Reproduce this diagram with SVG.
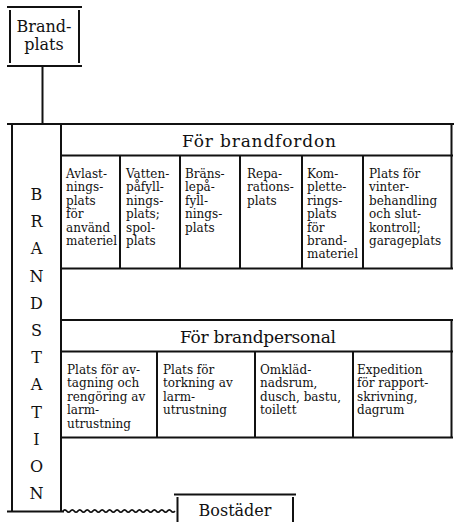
<svg xmlns="http://www.w3.org/2000/svg" width="458" height="522" viewBox="0 0 458 522">
<style>
.ln{stroke:#111;stroke-width:2;fill:none;stroke-linecap:square}
.v{stroke:#111;stroke-width:2;fill:none;stroke-linecap:butt}
.t{font-family:"DejaVu Serif","Liberation Serif",serif;font-size:12px;fill:#111}
.h{font-family:"DejaVu Serif","Liberation Serif",serif;font-size:17px;fill:#111;text-anchor:middle}
.s{font-family:"DejaVu Serif","Liberation Serif",serif;font-size:16px;fill:#111;text-anchor:middle}
</style>
<rect width="458" height="522" fill="#fff"/>
<g id="brandplats">
<path class="ln" d="M8,7H81M8,66H81"/>
<path class="v" d="M10,10V63M79,10V63"/>
<text class="s" x="44" y="32" font-size="15">Brand-</text>
<text class="s" x="44" y="50" font-size="15">plats</text>
</g>
<g id="connectors">
<path class="ln" d="M42.5,67V124"/>
<path fill="none" stroke="#111" stroke-width="1.8" d="M63,511q1.87,-2.4 3.73,0t3.73,0t3.73,0t3.73,0t3.73,0t3.73,0t3.73,0t3.73,0t3.73,0t3.73,0t3.73,0t3.73,0t3.73,0t3.73,0t3.73,0t3.73,0t3.73,0t3.73,0t3.73,0t3.73,0t3.73,0t3.73,0t3.73,0t3.73,0t3.73,0t3.73,0t3.73,0t3.73,0t3.73,0t3.73,0"/>
</g>
<g id="brandstation">
<path class="ln" d="M8,124H453M12,126V510M61,126V510M8,511.5H63"/>
<text class="s" x="36.5" y="200">B</text>
<text class="s" x="36.5" y="227.2">R</text>
<text class="s" x="36.5" y="254.4">A</text>
<text class="s" x="36.5" y="281.6">N</text>
<text class="s" x="36.5" y="308.8">D</text>
<text class="s" x="36.5" y="336">S</text>
<text class="s" x="36.5" y="363.2">T</text>
<text class="s" x="36.5" y="390.4">A</text>
<text class="s" x="36.5" y="417.6">T</text>
<text class="s" x="36.5" y="444.8">I</text>
<text class="s" x="36.5" y="472">O</text>
<text class="s" x="36.5" y="499.2">N</text>
</g>
<g id="brandfordon">
<path class="ln" d="M451.5,125V268M62,155.5H452M62,268.5H452M120,157V267M180,157V267M240,157V267M302,157V267M363,157V267"/>
<text class="h" x="259" y="147" textLength="154" lengthAdjust="spacing">För brandfordon</text>
<text class="t"><tspan x="66" y="178">Avlast-</tspan><tspan x="66" y="191.4">nings-</tspan><tspan x="66" y="204.8">plats</tspan><tspan x="66" y="218.2">för</tspan><tspan x="66" y="231.6">använd</tspan><tspan x="66" y="245">materiel</tspan></text>
<text class="t"><tspan x="126" y="178">Vatten-</tspan><tspan x="126" y="191.4">påfyll-</tspan><tspan x="126" y="204.8">nings-</tspan><tspan x="126" y="218.2">plats;</tspan><tspan x="126" y="231.6">spol-</tspan><tspan x="126" y="245">plats</tspan></text>
<text class="t"><tspan x="185" y="178">Bräns-</tspan><tspan x="185" y="191.4">lepå-</tspan><tspan x="185" y="204.8">fyll-</tspan><tspan x="185" y="218.2">nings-</tspan><tspan x="185" y="231.6">plats</tspan></text>
<text class="t"><tspan x="247" y="178">Repa-</tspan><tspan x="247" y="191.4">rations-</tspan><tspan x="247" y="204.8">plats</tspan></text>
<text class="t"><tspan x="307" y="178">Kom-</tspan><tspan x="307" y="191.4">plette-</tspan><tspan x="307" y="204.8">rings-</tspan><tspan x="307" y="218.2">plats</tspan><tspan x="307" y="231.6">för</tspan><tspan x="307" y="245">brand-</tspan><tspan x="307" y="258.4">materiel</tspan></text>
<text class="t"><tspan x="369" y="178">Plats för</tspan><tspan x="369" y="191.4">vinter-</tspan><tspan x="369" y="204.8">behandling</tspan><tspan x="369" y="218.2">och slut-</tspan><tspan x="369" y="231.6">kontroll;</tspan><tspan x="369" y="245">garageplats</tspan></text>
</g>
<g id="brandpersonal">
<path class="ln" d="M62,320H452M451.5,320V437M62,351.5H452M62,437.5H452M157,353V436M255,353V436M353,353V436"/>
<text class="h" x="258" y="343" textLength="156" lengthAdjust="spacing">För brandpersonal</text>
<text class="t"><tspan x="67" y="374">Plats för av-</tspan><tspan x="67" y="387.4">tagning och</tspan><tspan x="67" y="400.8">rengöring av</tspan><tspan x="67" y="414.2">larm-</tspan><tspan x="67" y="427.6">utrustning</tspan></text>
<text class="t"><tspan x="163" y="374">Plats för</tspan><tspan x="163" y="387.4">torkning av</tspan><tspan x="163" y="400.8">larm-</tspan><tspan x="163" y="414.2">utrustning</tspan></text>
<text class="t"><tspan x="260" y="374">Omkläd-</tspan><tspan x="260" y="387.4">nadsrum,</tspan><tspan x="260" y="400.8">dusch, bastu,</tspan><tspan x="260" y="414.2">toilett</tspan></text>
<text class="t"><tspan x="357" y="374">Expedition</tspan><tspan x="357" y="387.4">för rapport-</tspan><tspan x="357" y="400.8">skrivning,</tspan><tspan x="357" y="414.2">dagrum</tspan></text>
</g>
<g id="bostader">
<path class="ln" d="M175,494.5H295"/>
<path class="v" d="M177.5,497V522M293,497V522"/>
<text class="s" x="235" y="516" font-size="15">Bostäder</text>
</g>
</svg>
